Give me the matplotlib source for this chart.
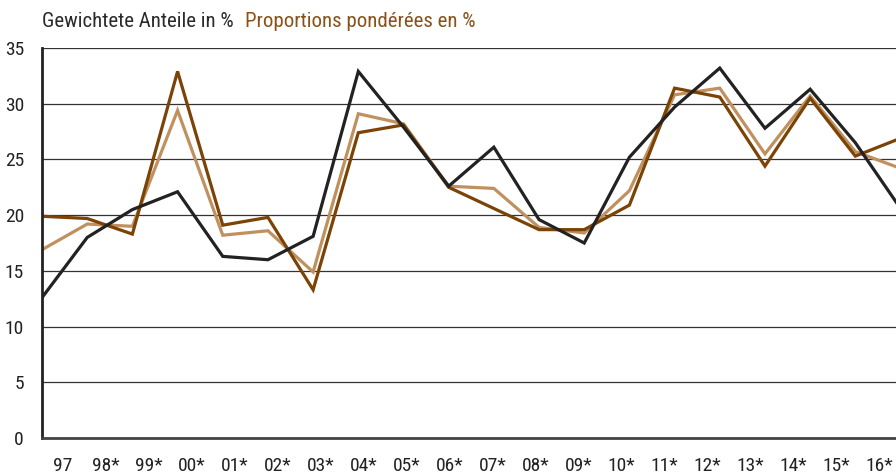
import numpy as np
import matplotlib
matplotlib.use("Agg")
import matplotlib.pyplot as plt

# Data
years = ['97', '98*', '99*', '00*', '01*', '02*', '03*', '04*', '05*', '06*',
         '07*', '08*', '09*', '10*', '11*', '12*', '13*', '14*', '15*', '16*']
black = [12.6, 18.0, 20.5, 22.1, 16.3, 16.0, 18.1, 32.9, 27.9, 22.6,
         26.1, 19.6, 17.5, 25.2, 29.7, 33.2, 27.8, 31.3, 26.5, 20.6]
dark_brown = [19.9, 19.7, 18.3, 32.9, 19.1, 19.8, 13.3, 27.4, 28.1, 22.5,
              20.6, 18.7, 18.7, 20.9, 31.4, 30.6, 24.4, 30.5, 25.3, 26.9]
light_brown = [16.9, 19.2, 19.0, 29.4, 18.2, 18.6, 14.9, 29.1, 28.2, 22.6,
               22.4, 18.9, 18.4, 22.2, 30.8, 31.4, 25.5, 30.7, 25.7, 24.2]

plt.rcParams['font.family'] = ['Roboto Condensed', 'Liberation Sans', 'DejaVu Sans']

fig = plt.figure(figsize=(8.96, 4.75), dpi=100)
ax = fig.add_axes([0.0469, 0.0779, 0.9531, 0.821])

x = np.arange(len(years))
ax.plot(x, light_brown, color='#c0915f', lw=2.3, solid_joinstyle='miter')
ax.plot(x, dark_brown, color='#7b4306', lw=2.3, solid_joinstyle='miter')
ax.plot(x, black, color='#222222', lw=2.3, solid_joinstyle='miter')

ax.set_xlim(0, 18.9)
ax.set_ylim(0, 35)
ax.set_yticks(range(0, 36, 5))
ax.yaxis.grid(True, color='#333333', lw=0.9)
ax.set_axisbelow(True)

# labels sit slightly offset from the data points in the original
ax.set_xticks(0.46 + 0.951 * x)
ax.set_xticklabels(years)
ax.tick_params(axis='both', length=0, labelsize=14, colors='#222222')
ax.tick_params(axis='x', pad=14)
ax.tick_params(axis='y', pad=13)

for side in ['top', 'right']:
    ax.spines[side].set_visible(False)
ax.spines['left'].set_linewidth(2)
ax.spines['left'].set_color('#222222')
ax.spines['bottom'].set_linewidth(2)
ax.spines['bottom'].set_color('#444444')

t1 = fig.text(0.047, 0.955, 'Gewichtete Anteile in %', fontsize=15,
              color='#2a2a2a', va='center', ha='left')
ax.annotate('Proportions pondérées en %', xy=(1, 0.5), xycoords=t1,
            xytext=(8, 0), textcoords='offset points', fontsize=15,
            color='#8a5219', va='center', ha='left')

fig.savefig('out.png', dpi=100)
